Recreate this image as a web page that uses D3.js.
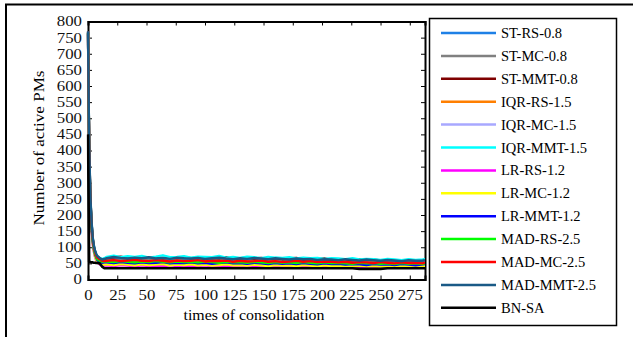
<!DOCTYPE html>
<html>
<head>
<meta charset="utf-8">
<script src="https://cdn.jsdelivr.net/npm/d3@7"></script>
<style>
  body { margin: 0; background: #fff; }
  svg { display: block; font-family: "Liberation Serif", "Times New Roman", serif; }
</style>
</head>
<body>
<div id="chart"></div>
<script>
// x positions (times of consolidation) shared by all series
const times = [0, 1, 2, 3, 4, 5, 6, 7, 8, 10, 12, 14,
  16, 22, 28, 34, 40, 46, 52, 58, 64, 70, 76, 82, 88, 94, 100, 106, 112, 118, 124, 130,
  136, 142, 148, 154, 160, 166, 172, 178, 184, 190, 196, 202, 208, 214, 220, 226, 232,
  238, 244, 250, 256, 262, 268, 274, 280, 286, 288];

const xTicks = [0, 25, 50, 75, 100, 125, 150, 175, 200, 225, 250, 275];
const yTicks = [0, 50, 100, 150, 200, 250, 300, 350, 400, 450, 500, 550, 600, 650, 700, 750, 800];

const stRs = [765, 405, 250, 175, 126, 100, 85, 75, 69, 64, 60, 61,
  63, 65, 62, 64, 61, 63, 65, 62, 64, 61, 63, 62, 60, 63, 61, 62, 64, 60, 62, 61, 59, 62, 60, 61,
  58, 60, 59, 61, 57, 59, 58, 60, 56, 58, 57, 55, 58, 56, 57, 54, 56, 55, 53, 56, 54, 55, 56];
const stMc = [767, 400, 248, 172, 124, 98, 83, 73, 67, 62, 58, 59,
  60, 62, 59, 61, 58, 60, 62, 59, 61, 58, 60, 59, 57, 60, 58, 59, 61, 57, 59, 58, 56, 59, 57, 58,
  55, 57, 56, 58, 54, 56, 55, 57, 53, 55, 54, 52, 55, 53, 54, 51, 53, 52, 50, 53, 51, 52, 53];
const stMmt = [766, 410, 255, 178, 128, 103, 87, 77, 71, 66, 62, 64,
  67, 69, 71, 66, 68, 70, 67, 69, 66, 68, 67, 70, 66, 68, 65, 67, 66, 69, 64, 66, 68, 65, 67, 64,
  66, 63, 65, 67, 62, 64, 63, 65, 61, 63, 62, 60, 63, 61, 62, 59, 61, 60, 58, 61, 59, 60, 62];
const iqrRs = [763, 395, 240, 165, 118, 92, 76, 66, 58, 53, 50, 50,
  51, 49, 52, 50, 48, 51, 49, 50, 48, 51, 49, 50, 47, 49, 51, 48, 50, 47, 49, 48, 50, 47, 49, 46,
  48, 47, 49, 46, 48, 45, 47, 46, 48, 45, 46, 44, 47, 45, 46, 44, 45, 43, 46, 44, 45, 43, 45];
const iqrMc = [761, 392, 238, 163, 116, 90, 74, 64, 56, 51, 48, 48,
  49, 47, 50, 48, 46, 49, 47, 48, 46, 49, 47, 48, 45, 47, 49, 46, 48, 45, 47, 46, 48, 45, 47, 44,
  46, 45, 47, 44, 46, 43, 45, 44, 46, 43, 44, 42, 45, 43, 44, 42, 43, 41, 44, 42, 43, 41, 43];
const iqrMmt = [768, 415, 258, 180, 130, 104, 88, 78, 72, 66, 63, 66,
  70, 74, 69, 72, 70, 73, 68, 71, 75, 69, 70, 72, 68, 71, 70, 69, 73, 68, 70, 67, 71, 69, 66, 70,
  68, 67, 69, 65, 68, 66, 67, 64, 66, 65, 63, 66, 62, 64, 63, 61, 64, 62, 60, 63, 61, 62, 63];
const lrRs = [758, 388, 234, 158, 111, 86, 70, 59, 52, 47, 44, 43,
  44, 42, 45, 43, 41, 44, 42, 43, 41, 44, 42, 43, 40, 42, 44, 41, 43, 40, 42, 41, 43, 40, 42, 39,
  41, 40, 42, 39, 41, 38, 40, 39, 41, 38, 39, 37, 40, 38, 39, 37, 38, 36, 39, 37, 38, 36, 38];
const lrMc = [760, 390, 236, 160, 113, 88, 72, 61, 54, 49, 47, 46,
  47, 45, 48, 46, 44, 47, 45, 46, 48, 44, 46, 45, 47, 44, 46, 43, 45, 47, 44, 45, 43, 46, 44, 42,
  45, 43, 44, 42, 45, 43, 41, 44, 42, 43, 41, 40, 43, 41, 42, 40, 41, 39, 42, 40, 41, 39, 41];
const lrMmt = [762, 398, 244, 168, 120, 94, 78, 68, 60, 55, 52, 53,
  53, 51, 54, 52, 50, 53, 51, 52, 54, 50, 52, 51, 53, 50, 52, 49, 51, 53, 50, 51, 49, 52, 50, 48,
  51, 49, 50, 48, 51, 49, 47, 50, 48, 49, 46, 48, 47, 45, 48, 46, 47, 45, 48, 46, 44, 47, 48];
const madRs = [764, 402, 246, 170, 122, 96, 80, 70, 63, 58, 55, 56,
  56, 54, 57, 55, 53, 56, 54, 57, 55, 53, 56, 54, 55, 53, 56, 54, 52, 55, 53, 54, 52, 55, 53, 51,
  54, 52, 53, 51, 54, 52, 50, 53, 51, 52, 50, 49, 52, 50, 51, 49, 50, 48, 51, 49, 50, 48, 50];
const madMc = [769, 412, 256, 176, 127, 101, 86, 74, 68, 63, 58, 57,
  58, 60, 57, 59, 61, 58, 57, 60, 58, 56, 59, 57, 58, 60, 56, 58, 57, 59, 55, 58, 56, 57, 59, 55,
  57, 54, 56, 58, 55, 57, 54, 56, 55, 53, 55, 52, 54, 53, 51, 54, 52, 50, 53, 51, 52, 50, 53];
const madMmt = [770, 420, 262, 182, 132, 106, 90, 80, 73, 67, 62, 64,
  66, 70, 67, 65, 68, 66, 69, 65, 67, 64, 68, 66, 65, 67, 64, 66, 68, 65, 63, 66, 64, 67, 65, 63,
  66, 64, 62, 65, 63, 64, 61, 63, 62, 60, 63, 61, 59, 62, 60, 58, 61, 59, 57, 60, 58, 59, 60];
const bnSa = [450, 55, 54, 53, 53, 52, 52, 51, 51, 50, 40, 35,
  35, 35, 35, 35, 35, 35, 35, 35, 35, 35, 35, 35, 35, 35, 35, 35, 35, 35, 35, 35, 35, 35, 35, 35,
  35, 35, 35, 35, 35, 35, 35, 35, 35, 35, 35, 35, 33, 33, 33, 33, 35, 35, 35, 35, 35, 35, 35];

const seriesNames = ["ST-RS-0.8", "ST-MC-0.8", "ST-MMT-0.8", "IQR-RS-1.5", "IQR-MC-1.5",
  "IQR-MMT-1.5", "LR-RS-1.2", "LR-MC-1.2", "LR-MMT-1.2", "MAD-RS-2.5", "MAD-MC-2.5",
  "MAD-MMT-2.5", "BN-SA"];
const seriesValues = [stRs, stMc, stMmt, iqrRs, iqrMc, iqrMmt, lrRs, lrMc, lrMmt, madRs, madMc, madMmt, bnSa];
const seriesColors = ["#1e80e6", "#808080", "#7f0000", "#ff7f00", "#a8a8ff", "#00ffff",
  "#ff00ff", "#ffff00", "#0000ff", "#00ff00", "#ff0000", "#1a5a86", "#000000"];

const W = 633, H = 337;
const margin = {left: 88, top: 21.5, right: 425, bottom: 279.5};

const svg = d3.select("#chart").append("svg")
  .attr("width", W).attr("height", H);

// outer frame (top and left edges)
svg.append("line").attr("x1", 5).attr("x2", W).attr("y1", 4.5).attr("y2", 4.5)
  .attr("stroke", "#000").attr("stroke-width", 2);
svg.append("line").attr("x1", 6).attr("x2", 6).attr("y1", 4).attr("y2", H)
  .attr("stroke", "#000").attr("stroke-width", 2);

const x = d3.scaleLinear().domain([0, 288]).range([margin.left, margin.right]);
const y = d3.scaleLinear().domain([0, 800]).range([margin.bottom, margin.top]);

// axes with inward ticks (drawn first so the initial spikes show over the y axis)
const tickLen = 4;
const bottomAxis = svg.append("g").attr("transform", `translate(0,${margin.bottom})`)
  .call(d3.axisBottom(x).tickValues(xTicks).tickSize(-tickLen).tickPadding(8));
const topAxis = svg.append("g").attr("transform", `translate(0,${margin.top})`)
  .call(d3.axisTop(x).tickValues(xTicks).tickSize(-tickLen).tickFormat(""));
const leftAxis = svg.append("g").attr("transform", `translate(${margin.left},0)`)
  .call(d3.axisLeft(y).tickValues(yTicks).tickSize(-tickLen).tickPadding(7));
const rightAxis = svg.append("g").attr("transform", `translate(${margin.right},0)`)
  .call(d3.axisRight(y).tickValues(yTicks).tickSize(-tickLen).tickFormat(""));

[bottomAxis, topAxis, leftAxis, rightAxis].forEach(a => {
  a.select(".domain").attr("stroke", "#000").attr("stroke-width", 2);
  a.selectAll(".tick line").attr("stroke", "#000");
  a.selectAll("text").attr("font-family", "Liberation Serif").attr("font-size", "14px").attr("fill", "#111");
});
// tick labels are a little wider in the reference
bottomAxis.selectAll(".tick text")
  .attr("y", null).attr("dy", null)
  .attr("transform", "translate(0,20) scale(1.2,1)");
leftAxis.selectAll(".tick text")
  .attr("x", null)
  .attr("transform", "translate(-6,0) scale(1.2,1)");

const plot = svg.append("g");
plot.append("clipPath").attr("id", "clip").append("rect")
  .attr("x", margin.left - 1.5).attr("y", margin.top)
  .attr("width", margin.right - margin.left + 1.5).attr("height", margin.bottom - margin.top - 1);

const line = d3.line().x((d, i) => x(times[i])).y(d => y(d));

plot.append("g").attr("clip-path", "url(#clip)")
  .selectAll("path")
  .data(seriesValues)
  .join("path")
  .attr("d", d => line(d))
  .attr("fill", "none")
  .attr("stroke", (d, i) => seriesColors[i])
  .attr("stroke-width", (d, i) => i === 12 ? 2.6 : 2.4)
  .attr("stroke-linejoin", "round");

// axis titles
svg.append("text")
  .attr("x", 254).attr("y", 320)
  .attr("text-anchor", "middle").attr("font-size", "15px")
  .attr("textLength", 141).attr("lengthAdjust", "spacingAndGlyphs")
  .text("times of consolidation");
svg.append("text")
  .attr("transform", "translate(44,148) rotate(-90)")
  .attr("text-anchor", "middle").attr("font-size", "15px")
  .attr("textLength", 155).attr("lengthAdjust", "spacingAndGlyphs")
  .text("Number of active PMs");

// legend
const legend = svg.append("g");
legend.append("rect")
  .attr("x", 429.5).attr("y", 18.5).attr("width", 187).attr("height", 307)
  .attr("fill", "#fff").attr("stroke", "#000").attr("stroke-width", 1.5);

const rows = legend.selectAll("g.row")
  .data(seriesNames)
  .join("g")
  .attr("class", "row")
  .attr("transform", (d, i) => `translate(0,${33 + i * 22.9})`);
rows.append("line")
  .attr("x1", 441).attr("x2", 496)
  .attr("stroke", (d, i) => seriesColors[i])
  .attr("stroke-width", 2.5);
rows.append("text")
  .attr("x", 501).attr("dy", "0.35em")
  .attr("font-size", "14.5px")
  .text(d => d);
</script>
</body>
</html>
